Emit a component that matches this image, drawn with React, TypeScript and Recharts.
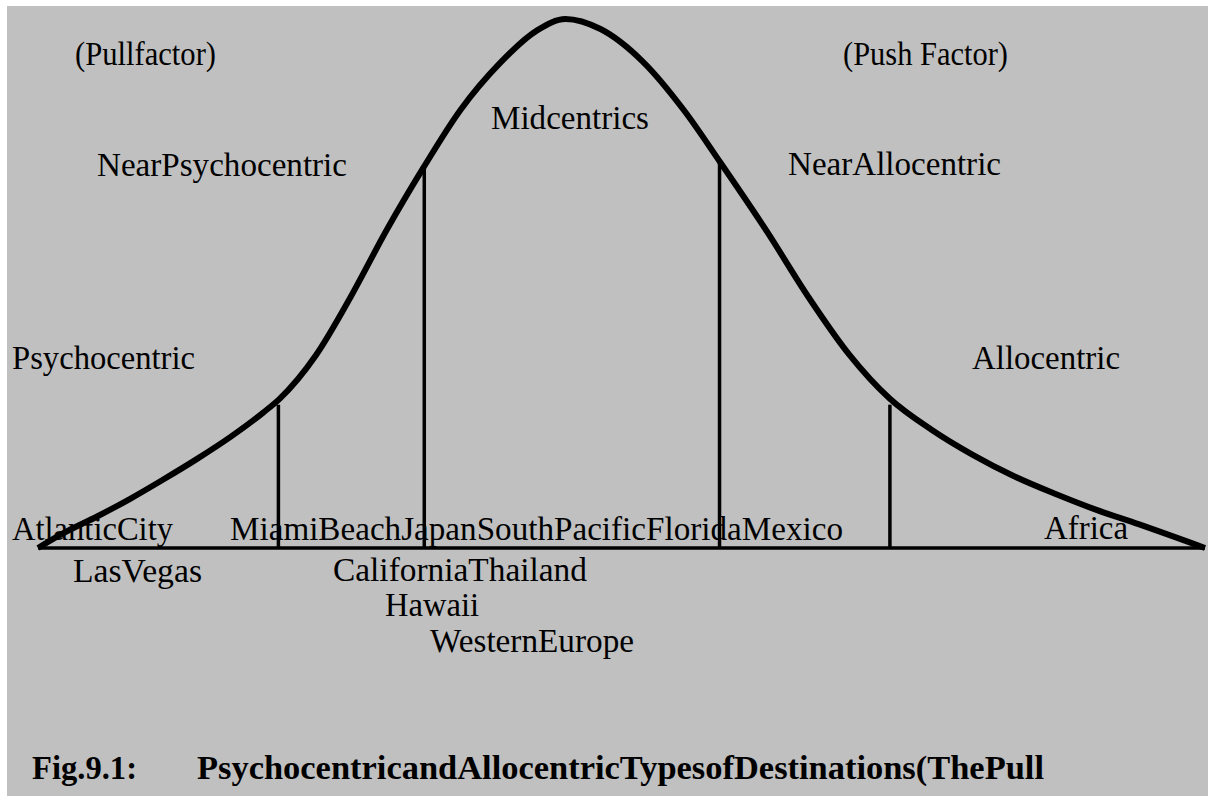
import { LineChart, Line, XAxis, YAxis, ReferenceLine } from "recharts";

// curve: position along the scale (0-100) vs relative height (0-100)
const curveX = [
    0, 2.1, 5.1, 7.9, 10.7, 13.6, 16.5, 19.3, 20.7, 23.8, 26.8, 29.9, 33.0, 36.2, 39.6, 42.8, 45.2,
    48.2, 51.8, 55.4, 58.4, 62.5, 66.0, 69.5, 73.0, 76.6, 80.1, 83.6, 87.2, 90.7, 94.3, 100,
];
const curveY = [
    0, 2.7, 6.0, 9.3, 12.9, 16.8, 21.0, 25.6, 28.2, 36.4, 47.5, 60.2, 71.8, 82.8, 91.7, 97.9, 100,
    98.1, 92.0, 82.6, 73.1, 59.7, 47.5, 36.6, 28.2, 22.3, 17.6, 13.6, 10.2, 7.2, 4.5, 0,
];

// segment boundaries under the curve
const dividerX = [20.6, 33.1, 58.4, 73.0];
const dividerTop = [27.1, 71.8, 72.9, 27.1];

const segmentNames = [
    "(Pullfactor)",
    "(Push Factor)",
    "Midcentrics",
    "NearPsychocentric",
    "NearAllocentric",
    "Psychocentric",
    "Allocentric",
];
const destinationNames = [
    "AtlanticCity",
    "MiamiBeachJapanSouthPacificFloridaMexico",
    "Africa",
    "LasVegas",
    "CaliforniaThailand",
    "Hawaii",
    "WesternEurope",
];
const captionParts = ["Fig.9.1:", "PsychocentricandAllocentricTypesofDestinations(ThePull"];

const data = curveX.map((x, i) => ({ x, y: curveY[i] }));

// page-pixel placement of the text (x, baseline, width)
const segmentLayout = [
    [75, 65, 141],
    [843, 65, 165],
    [491, 129, 158],
    [97, 176, 250],
    [788, 175, 213],
    [12, 369, 183],
    [972, 369, 148],
];
const destinationLayout = [
    [12, 540, 161],
    [230, 540, 613],
    [1044, 539, 84],
    [73, 582, 129],
    [333, 581, 254],
    [385, 616, 94],
    [430, 652, 204],
];
const captionLayout = [
    [32, 779, 105],
    [197, 779, 847],
];

const FONT = '"Liberation Serif", "Times New Roman", serif';

const Labels = () => (
    <svg
        width={1208}
        height={796}
        style={{ position: "absolute", left: -7, top: -6 }}
    >
        {segmentNames.map((t, i) => (
            <text
                key={t}
                x={segmentLayout[i][0]}
                y={segmentLayout[i][1]}
                textLength={segmentLayout[i][2]}
                lengthAdjust="spacingAndGlyphs"
                fontFamily={FONT}
                fontSize={34}
                fill="#000"
            >
                {t}
            </text>
        ))}
        {destinationNames.map((t, i) => (
            <text
                key={t}
                x={destinationLayout[i][0]}
                y={destinationLayout[i][1]}
                textLength={destinationLayout[i][2]}
                lengthAdjust="spacingAndGlyphs"
                fontFamily={FONT}
                fontSize={34}
                fill="#000"
            >
                {t}
            </text>
        ))}
        {captionParts.map((t, i) => (
            <text
                key={t}
                x={captionLayout[i][0]}
                y={captionLayout[i][1]}
                textLength={captionLayout[i][2]}
                lengthAdjust="spacingAndGlyphs"
                fontFamily={FONT}
                fontWeight="bold"
                fontSize={33}
                fill="#000"
            >
                {t}
            </text>
        ))}
    </svg>
);

const App = () => {
    return (
        <div
            style={{
                position: "absolute",
                left: 7,
                top: 6,
                width: 1201,
                height: 790,
                background: "#c0c0c0",
            }}
        >
            <Labels />
            <div style={{ position: "absolute", left: 0, top: 0 }}>
                <LineChart
                    width={1201}
                    height={790}
                    data={data}
                    margin={{ top: 13, right: 3, bottom: 248, left: 31 }}
                >
                    <XAxis type="number" dataKey="x" domain={[0, 100]} hide />
                    <YAxis type="number" domain={[0, 100]} hide />
                    <ReferenceLine y={0} stroke="#000" strokeWidth={3.5} />
                    {dividerX.map((x, i) => (
                        <ReferenceLine
                            key={x}
                            segment={[
                                { x, y: 0 },
                                { x, y: dividerTop[i] },
                            ]}
                            stroke="#000"
                            strokeWidth={3.5}
                        />
                    ))}
                    <Line
                        type="monotone"
                        dataKey="y"
                        stroke="#000"
                        strokeWidth={6}
                        dot={false}
                        activeDot={false}
                        isAnimationActive={false}
                    />
                </LineChart>
            </div>
        </div>
    );
};

export default App;
